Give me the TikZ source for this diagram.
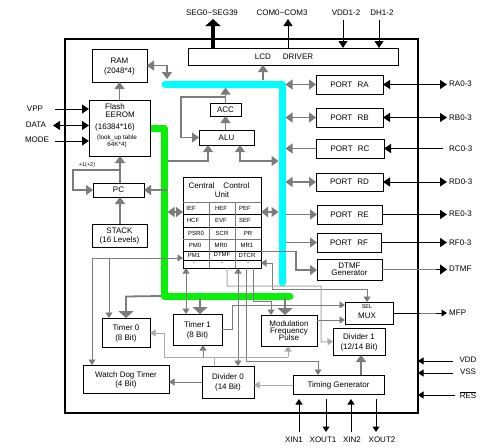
\documentclass[tikz,border=0pt]{standalone}
\usepackage{fontspec}
\setmainfont{Liberation Sans}
\usetikzlibrary{arrows.meta}
\definecolor{gr}{HTML}{7C7C7C}
\definecolor{lgr}{HTML}{ABABAB}
\definecolor{busc}{HTML}{00FFFF}
\definecolor{busg}{HTML}{08F008}
\newcommand\bx[6]{\pgfmathsetmacro\cxx{(#2+#4)/2}\pgfmathsetmacro\cyy{(#3+#5)/2}\pgfmathsetmacro\ww{#4-#2}\pgfmathsetmacro\hh{#5-#3}%
\node[box,minimum width=\ww pt,minimum height=\hh pt] (#1) at (\cxx,\cyy) {#6};}
\newcommand\fs[1]{\fontsize{#1}{#1}\selectfont}
\tikzset{
 x=1pt,y=-1pt,
 gt/.tip={Triangle[length=7pt,width=10pt]},
 bt/.tip={Triangle[length=7pt,width=9pt]},
 st/.tip={Triangle[length=5.5pt,width=7pt]},
 wt/.tip={Triangle[length=7pt,width=15pt]},
 box/.style={draw=black,line width=1pt,inner sep=0pt,outer sep=0pt,align=center,font=\fs{8},fill=white,text depth=0pt},
 txt/.style={inner sep=0pt,font=\fs{8},align=center},
 lab/.style={inner sep=2pt,font=\fs{8}},
 cell/.style={inner sep=0pt,font=\fs{6}},
 gl/.style={draw=gr,line width=1.2pt},
 ll/.style={draw=lgr,line width=1pt},
 ga/.style={gl,-gt},
 gb/.style={gl,gt-gt},
 ta/.style={draw=gr,line width=.9pt,-st},
 tb/.style={draw=gr,line width=.9pt,st-st},
 la/.style={ll,-st},
 wa/.style={draw=gr,line width=1.8pt,-wt},
 ba/.style={draw=black,line width=1pt,-bt},
 bb/.style={draw=black,line width=1pt,bt-bt},
 sa/.style={draw=black,line width=1pt,-st},
 bus/.style={line width=7pt,line cap=round,line join=round},
}
\begin{document}
\begin{tikzpicture}
\useasboundingbox (0,0) rectangle (503,447);
\fill[white] (0,0) rectangle (503,447);
\node[draw=black,line width=2pt,minimum width=353pt,minimum height=374pt,inner sep=0pt,outer sep=0pt] (chip) at (241.5,226) {};
% buses
\draw[bus,busc] (165,84) -- (282,84) -- (282,283);
\draw[bus,busg] (150,128) -- (164,128) -- (164,296) -- (290,296);
\coordinate (cE) at (285.5,0);
\coordinate (cW) at (278.5,0);
\coordinate (gE) at (167.5,0);
\coordinate (cS) at (0,87.5);
% boxes
\bx{ram}{92}{49}{147}{82}{\\[-3pt]RAM\\[2pt](2048*4)}
\bx{flash}{89}{100}{150}{156}{}
\bx{lcd}{188}{48}{398}{65}{}
\bx{acc}{210}{103}{241}{116}{ACC}
\bx{alu}{199}{130}{254}{145}{ALU}
\bx{pc}{93}{183}{144}{197}{PC}
\bx{stack}{92}{224}{147}{247}{STACK\\[1pt](16 Levels)}
\bx{ccu}{183}{177}{261}{268}{}
\bx{pa}{316}{75}{383}{94}{PORT\hspace{3pt} RA}
\bx{pb}{316}{108}{383}{127}{PORT\hspace{3pt} RB}
\bx{pc2}{316}{139}{384}{158}{PORT\hspace{3pt} RC}
\bx{pd}{316}{173}{383}{191}{PORT\hspace{3pt} RD}
\bx{pe}{317}{205}{382}{224}{PORT\hspace{3pt} RE}
\bx{pf}{317}{233}{381}{252}{PORT\hspace{3pt} RF}
\bx{dtmfg}{317}{259}{382}{280}{DTMF\\[-1pt]Generator}
\bx{mux}{345}{302}{393}{324}{}
\bx{div1}{333}{328}{385}{355}{Divider 1\\[2pt](12/14 Bit)}
\bx{tim}{293}{375}{384}{394}{Timing Generator}
\bx{mod}{261}{315}{317}{346}{Modulation\\[-1pt]Frequency\\[-1pt]Pulse}
\bx{t0}{102}{318}{150}{347}{Timer 0\\[2pt](8 Bit)}
\bx{t1}{173}{314}{222}{345}{Timer 1\\[2pt](8 Bit)}
\bx{wdt}{83}{365}{169}{393}{Watch Dog Timer\\[1pt](4 Bit)}
\bx{div0}{202}{366}{254}{398}{Divider 0\\[2pt](14 Bit)}
% box texts
\node[txt] (tlcd) at (284,57) {LCD\hspace{12pt}DRIVER};
\node[txt] (tf1) at (115,107) {Flash};
\node[txt] (tf2) at (120,115) {EEROM};
\node[txt] (tf3) at (115,127) {(16384*16)};
\node[txt,font=\fs{6.3}] (tf4) at (117,137.5) {(look\_up table};
\node[txt,font=\fs{6.3}] (tf5) at (117,145) {64K*4)};
\node[txt] (tc1) at (219,186) {Central\hspace{9pt}Control};
\node[txt] (tc2) at (222,195) {Unit};
\node[txt,font=\fs{5.5}] (tsel) at (367,306.5) {SEL};
\node[txt] (tmux) at (367,316) {MUX};
% central control table
\foreach \yy/\cc in {202/gr,214/black,227/black,239/gr,251/black,260/black}
  \draw[\cc,line width=.9pt] (ccu.west |- 0,\yy) -- (ccu.east |- 0,\yy);
\foreach \xx in {209,235}
  \draw[gr,line width=.9pt] (ccu.south -| \xx,0) -- (\xx,202);
\node[cell] (c11) at (191,208) {IEF};
\node[cell] (c12) at (221,208) {HEF};
\node[cell] (c13) at (245,208) {PEF};
\node[cell] (c21) at (193,220) {HCF};
\node[cell] (c22) at (221,220) {EVF};
\node[cell] (c23) at (245,220) {SEF};
\node[cell] (c31) at (196,233) {PSR0};
\node[cell] (c32) at (222,233) {SCR};
\node[cell] (c33) at (248,233) {PR};
\node[cell] (c41) at (195,245) {PM0};
\node[cell] (c42) at (221,245) {MR0};
\node[cell] (c43) at (247,245) {MR1};
\node[cell] (c51) at (194,255.5) {PM1};
\node[cell] (c52) at (222,254.5) {DTMF};
\node[cell] (c53) at (247,255.5) {DTCR};
\node[cell] (c61) at (194,264) {-};
\node[cell] (c62) at (222,264) {-};
\node[cell] (c63) at (248,264) {-};
% left signals
\node[lab] (lvpp) at (35,109) {VPP};
\node[lab] (ldata) at (36,125) {DATA};
\node[lab] (lmode) at (37,140) {MODE};
\coordinate (lstart) at (55,0);
\coordinate (dstart) at (53,0);
\draw[ba] (lstart |- 0,109) -- (flash.west |- 0,109);
\draw[bb] (dstart |- 0,125.5) -- (flash.west |- 0,125.5);
\draw[ba] (lstart |- 0,141) -- (flash.west |- 0,141);
% top signals
\node[lab] (lseg) at (212,13) {SEG0\textasciitilde SEG39};
\node[lab] (lcom) at (282,13) {COM0\textasciitilde COM3};
\node[lab] (lvdd) at (346,13) {VDD1-2};
\node[lab] (ldh) at (382,13) {DH1-2};
\draw[line width=4.5pt,-{Triangle[length=7pt,width=15pt]}] (lcd.north -| 213,0) -- (213,19);
\draw[ba] (lcd.north -| 288,0) -- (288,19);
\draw[ba] (343,20) -- (lcd.north -| 343,0);
\draw[ba] (379,20) -- (lcd.north -| 379,0);
% right port signals
\node[lab,anchor=west] (lra) at (447,84) {RA0-3};
\node[lab,anchor=west] (lrb) at (447,118) {RB0-3};
\node[lab,anchor=west] (lrc) at (447,149) {RC0-3};
\node[lab,anchor=west] (lrd) at (447,182) {RD0-3};
\node[lab,anchor=west] (lre) at (447,214) {RE0-3};
\node[lab,anchor=west] (lrf) at (447,243) {RF0-3};
\node[lab,anchor=west] (ldtmf) at (447,269) {DTMF};
\node[lab,anchor=west] (lmfp) at (447,313) {MFP};
\draw[bb] (pa.east) -- (pa.east -| lra.west);
\draw[bb] (pb.east) -- (pb.east -| lrb.west);
\draw[ba] (pc2.east -| 443,0) -- (pc2.east);
\draw[bb] (pd.east) -- (pd.east -| lrd.west);
\draw[ba,line width=1.5pt] (pe.east) -- (pe.east -| lre.west);
\draw[ba,line width=1.5pt] (pf.east) -- (pf.east -| lrf.west);
\draw[gl] (dtmfg.east) -- (dtmfg.east -| 440,0);
\draw[ba,-{Triangle[length=7pt,width=10pt]}] (dtmfg.east -| 436,0) -- (dtmfg.east -| ldtmf.west);
\draw[gl,line width=1pt] (mux.east) -- (mux.east -| 440,0);
\draw[black,line width=1pt] (mux.east) -- (mux.east -| 420,0);
\draw[sa] (mux.east -| 436,0) -- (mux.east -| lmfp.west);
% right power
\node[lab] (lv1) at (468,360) {VDD};
\node[lab] (lv2) at (468,372) {VSS};
\node[lab] (lv3) at (468,395) {$\overline{\mbox{RES}}$};
\draw[sa] (453,361) -- (chip.east |- 0,361);
\draw[sa] (453,373) -- (chip.east |- 0,373);
\draw[sa] (455,395) -- (chip.east |- 0,395);
% bottom signals
\node[lab] (lx1) at (294,440) {XIN1};
\node[lab] (lx2) at (323,440) {XOUT1};
\node[lab] (lx3) at (352,440) {XIN2};
\node[lab] (lx4) at (382,440) {XOUT2};
\draw[sa] (299,432) -- (299,399);
\draw[sa] (326,399) -- (326,432);
\draw[sa] (351,432) -- (351,399);
\draw[sa] (376,399) -- (376,432);
% bus to ports
\draw[gb] (cE |- pa.west) -- (pa.west);
\draw[gb] (cE |- pb.west) -- (pb.west);
\draw[ga] (pc2.west) -- (cE |- pc2.west);
\draw[gb] (cE |- pd.west) -- (pd.west);
\draw[ga] (cE |- pe.west) -- (pe.west);
\draw[ga] (cE |- pf.west) -- (pf.west);
% upper gray connectors
\draw[ga] (263,80) -- (lcd.south -| 263,0);
\draw[gb] (ram.east) -- (167,65.5) -- (167,79);
\draw[ga] (flash.north -| ram.south) -- (ram.south);
\draw[ga] (acc.north) -- (acc.north |- cS);
\draw[ga] (alu.north -| acc.south) -- (acc.south);
\draw[ga] (225,97) -- (181,97) -- (181,137.5) -- (alu.west);
\draw[ga] (gE |- 0,161) -- (208,161) -- (alu.south -| 208,0);
\draw[gb] (alu.south -| 240,0) -- (240,161) -- (cW |- 0,161);
\draw[ga] (pc.north -| 120,0) -- (flash.south -| 120,0);
\draw[ga] (120,170) -- (73,170) -- (73,190) -- (pc.west);
\node[txt,font=\fs{5.5}] (tinc) at (87,165) {+1(+2)};
\draw[ga] (gE |- pc.east) -- (pc.east);
\draw[ga] (stack.north -| 120,0) -- (pc.south -| 120,0);
\draw[gb] (gE |- 0,212) -- (ccu.west |- 0,212);
\draw[gb] (ccu.east |- 0,212) -- (cW |- 0,212);
% ccu outgoing
\draw[ga] (ccu.east |- 0,251.5) -- (296,251.5) -- (296,270) -- (dtmfg.west |- 0,270);
\draw[tb] (ccu.east |- 0,263) -- (272,263) -- (272,289) -- (367,289) -- (mux.north -| 367,0);
\draw[la] (ccu.south -| 227,0) -- (227,286) -- (321,286) -- (321,342) -- (div1.west);
\draw[tb] (ccu.south -| 186,0) -- (t1.north -| 186,0);
\draw[tb] (ccu.south -| 238,0) -- (div0.north -| 238,0);
\draw[ta] (ccu.south -| 246,0) -- (246,361) -- (318,361) -- (tim.north -| 318,0);
\draw[ta] (ccu.south -| 253,0) -- (253,301) -- (271,301) -- (mod.north -| 271,0);
% green bus down
\draw[wa] (200,298) -- (t1.north -| 200,0);
\draw[wa] (161,296) -- (126,296.5) -- (t0.north -| 126,0);
\draw[wa] (285,298) -- (mod.north -| 285,0);
% to mux
\draw[ta] (t1.east |- 0,329) -- (232,329) -- (232,305) -- (mux.west |- 0,305);
\draw[ta] (mod.east |- 0,320) -- (mux.west |- 0,320);
% PM1 lines
\draw[ta] (92,258) -- (ccu.west |- 0,258);
\draw[ta] (92,258) -- (wdt.north -| 92,0);
\draw[ta] (109,258) -- (t0.north -| 109,0);
% divider 0
\draw[ta] (div0.west |- 0,382) -- (wdt.east |- 0,382);
\draw[la] (tim.west |- 0,385) -- (div0.east |- 0,385);
\draw[ll] (div0.north -| 214,0) -- (214,357);
\draw[la] (288,357) -- (164,357) -- (164,333) -- (t0.east |- 0,333);
\draw[la,draw=gr] (203,357) -- (t1.south -| 203,0);
\draw[la] (288,357) -- (mod.south -| 288,0);
\draw[wa,line width=1.4pt,-gt] (tim.north -| 361,0) -- (div1.south -| 361,0);
\end{tikzpicture}
\end{document}
